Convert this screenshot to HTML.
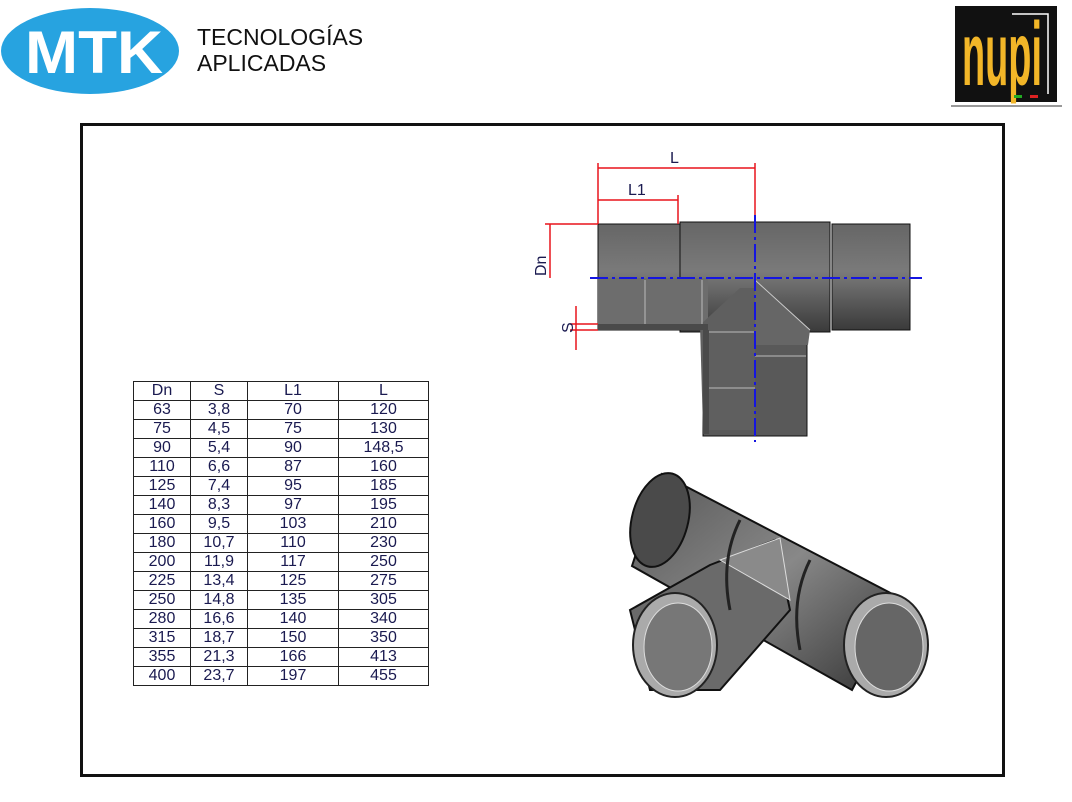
<!DOCTYPE html>
<html><head><meta charset="utf-8"><style>
body{margin:0;width:1072px;height:802px;background:#fff;position:relative;overflow:hidden;font-family:"Liberation Sans",sans-serif}
.frame{position:absolute;left:80px;top:123px;width:919px;height:648px;border:3px solid #111}
table{position:absolute;left:133px;top:381px;border-collapse:collapse;font-size:16px;color:#1a1a50}
td{border:1px solid #222;text-align:center;height:18px;padding:0;line-height:18px}
</style></head><body>
<svg width="1072" height="802" style="position:absolute;left:0;top:0">
<ellipse cx="90" cy="51" rx="89" ry="43" fill="#27a3e0"/>
<text x="25" y="73" font-family="Liberation Sans" font-weight="bold" font-size="60" fill="#fff" textLength="138" lengthAdjust="spacingAndGlyphs">MTK</text>
<text x="197" y="45" font-family="Liberation Sans" font-size="23" fill="#111">TECNOLOGÍAS</text>
<text x="197" y="71" font-family="Liberation Sans" font-size="23" fill="#111">APLICADAS</text>
<rect x="955" y="6" width="102" height="96" fill="#111"/>
<polyline points="1012,14 1048,14 1048,94" fill="none" stroke="#fff" stroke-width="1.5"/>
<text x="962" y="85" font-family="Liberation Sans" font-weight="bold" font-size="62" fill="#f2b628" textLength="80" lengthAdjust="spacingAndGlyphs" transform="matrix(1,0,0,1.45,0,-38.25)">nupi</text>
<rect x="1014" y="95" width="8" height="3" fill="#2a2"/><rect x="1030" y="95" width="8" height="3" fill="#d22"/>
<line x1="951" y1="106" x2="1062" y2="106" stroke="#333"/>
<defs><linearGradient id="g1" x1="0" y1="0" x2="0" y2="1"><stop offset="0" stop-color="#666"/><stop offset=".45" stop-color="#7a7a7a"/><stop offset="1" stop-color="#3a3a3a"/></linearGradient>
<linearGradient id="g2" x1="0" y1="0" x2="1" y2="1"><stop offset="0" stop-color="#555"/><stop offset=".5" stop-color="#888"/><stop offset="1" stop-color="#333"/></linearGradient></defs>
<!-- 2D tee -->
<rect x="703" y="300" width="104" height="136" fill="#595959" stroke="#111"/>
<rect x="598" y="224" width="82" height="106" fill="url(#g1)" stroke="#111"/>
<rect x="680" y="222" width="150" height="110" fill="url(#g1)" stroke="#111"/>
<rect x="832" y="224" width="78" height="106" fill="url(#g1)" stroke="#111"/>
<rect x="598" y="278" width="110" height="46" fill="#6d6d6d"/>
<polygon points="700,325 740,288 755,288 755,430 703,430" fill="#5f5f5f"/>
<polygon points="755,280 810,330 808,345 755,345" fill="#666"/>
<line x1="755" y1="280" x2="810" y2="330" stroke="#ccc"/>
<line x1="645" y1="280" x2="645" y2="324" stroke="#bbb"/><line x1="702" y1="280" x2="702" y2="324" stroke="#bbb"/>
<line x1="707" y1="332" x2="755" y2="332" stroke="#bbb"/><line x1="707" y1="388" x2="755" y2="388" stroke="#bbb"/>
<line x1="755" y1="356" x2="806" y2="356" stroke="#bbb"/>
<rect x="598" y="324" width="110" height="6" fill="#4a4a4a"/>
<rect x="703" y="330" width="6" height="104" fill="#4a4a4a"/>
<line x1="590" y1="278" x2="922" y2="278" stroke="#1515e0" stroke-width="2" stroke-dasharray="18,4,3,4"/>
<line x1="755" y1="215" x2="755" y2="442" stroke="#1515e0" stroke-width="2" stroke-dasharray="18,4,3,4"/>
<g stroke="#e8141c" stroke-width="1.5" fill="#e8141c">
<line x1="598" y1="163" x2="598" y2="224"/><line x1="755" y1="163" x2="755" y2="215"/><line x1="678" y1="195" x2="678" y2="224"/>
<line x1="598" y1="168" x2="755" y2="168"/><line x1="598" y1="200" x2="678" y2="200"/>
<line x1="545" y1="224" x2="598" y2="224"/><line x1="550" y1="224" x2="550" y2="278"/>
<line x1="576" y1="306" x2="576" y2="350"/><line x1="570" y1="324" x2="598" y2="324"/><line x1="570" y1="330" x2="598" y2="330"/>
</g>
<g font-family="Liberation Sans" font-size="16" fill="#1a1a50">
<text x="670" y="163">L</text><text x="628" y="195">L1</text>
<text x="0" y="0" transform="translate(546,276) rotate(-90)">Dn</text>
<text x="0" y="0" transform="translate(573,333) rotate(-90)">S</text></g>
<!-- 3D tee -->
<polygon points="662,474 900,598 852,690 632,566" fill="url(#g2)" stroke="#111" stroke-width="2"/>
<ellipse cx="660" cy="520" rx="28" ry="48" fill="#4a4a4a" stroke="#111" stroke-width="2" transform="rotate(15 660 520)"/>
<polygon points="710,565 775,540 790,610 720,690 650,690 630,610" fill="#6a6a6a" stroke="#111" stroke-width="2"/>
<polygon points="720,560 780,538 790,600" fill="#8a8a8a" stroke="#ddd"/>
<ellipse cx="675" cy="645" rx="42" ry="52" fill="#aaa" stroke="#222" stroke-width="2"/>
<ellipse cx="678" cy="647" rx="34" ry="44" fill="#777" stroke="#ddd"/>
<ellipse cx="886" cy="645" rx="42" ry="52" fill="#aaa" stroke="#222" stroke-width="2"/>
<ellipse cx="889" cy="647" rx="34" ry="44" fill="#666" stroke="#ddd"/>
<path d="M740 520 Q720 560 730 610" stroke="#222" stroke-width="3" fill="none"/>
<path d="M810 560 Q790 600 800 650" stroke="#222" stroke-width="3" fill="none"/>
</svg>
<div class="frame"></div>
<table>
<tr><td style="width:56px">Dn</td><td style="width:56px">S</td><td style="width:90px">L1</td><td style="width:89px">L</td></tr>
<tr><td>63</td><td>3,8</td><td>70</td><td>120</td></tr>
<tr><td>75</td><td>4,5</td><td>75</td><td>130</td></tr>
<tr><td>90</td><td>5,4</td><td>90</td><td>148,5</td></tr>
<tr><td>110</td><td>6,6</td><td>87</td><td>160</td></tr>
<tr><td>125</td><td>7,4</td><td>95</td><td>185</td></tr>
<tr><td>140</td><td>8,3</td><td>97</td><td>195</td></tr>
<tr><td>160</td><td>9,5</td><td>103</td><td>210</td></tr>
<tr><td>180</td><td>10,7</td><td>110</td><td>230</td></tr>
<tr><td>200</td><td>11,9</td><td>117</td><td>250</td></tr>
<tr><td>225</td><td>13,4</td><td>125</td><td>275</td></tr>
<tr><td>250</td><td>14,8</td><td>135</td><td>305</td></tr>
<tr><td>280</td><td>16,6</td><td>140</td><td>340</td></tr>
<tr><td>315</td><td>18,7</td><td>150</td><td>350</td></tr>
<tr><td>355</td><td>21,3</td><td>166</td><td>413</td></tr>
<tr><td>400</td><td>23,7</td><td>197</td><td>455</td></tr>
</table>
</body></html>
